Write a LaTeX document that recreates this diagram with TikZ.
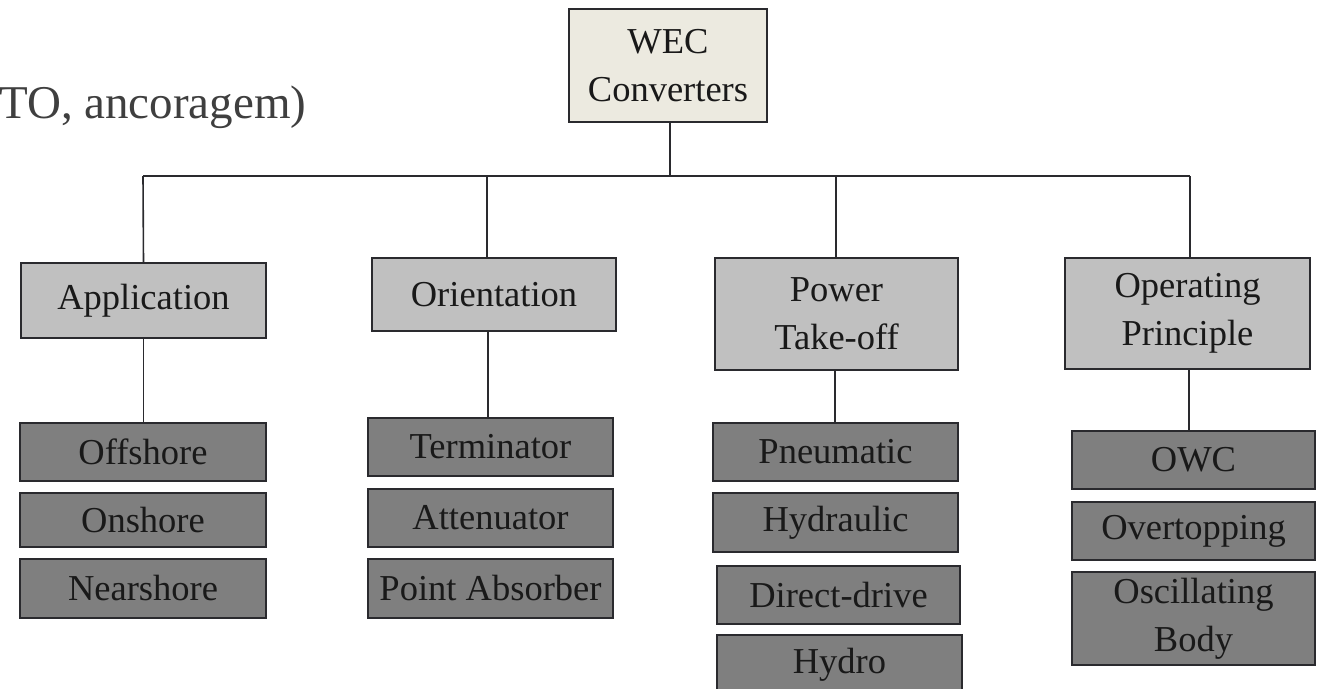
\documentclass[tikz,border=0pt]{standalone}
\usepackage{fontspec}
\setmainfont{Liberation Serif}
\definecolor{topfill}{HTML}{ECEAE0}
\definecolor{midfill}{HTML}{C0C0C0}
\definecolor{leaffill}{HTML}{7F7F7F}
\definecolor{edge}{HTML}{2A2A2E}
\definecolor{captext}{HTML}{3F3F3F}
\tikzset{
  box/.style={draw=edge, line width=1.6pt, inner sep=0pt, align=center,
    text=black!90, font=\fontsize{36.5}{48}\selectfont},
  topbox/.style={box, fill=topfill},
  midbox/.style={box, fill=midfill},
  leafbox/.style={box, fill=leaffill},
  link/.style={draw=edge, line width=1.6pt},
}
\newcommand{\bx}[8]{% style, name, x1, y1, x2, y2, text
  \node[#1, minimum width={#5-#3}, minimum height={#6-#4}] (#2) at ({(#3+#5)/2},{(#4+#6)/2}) {#7};}
\begin{document}
\begin{tikzpicture}[x=1pt,y=-1pt]
\useasboundingbox (0,0) rectangle (1319,688);
\fill[white] (0,0) rectangle (1319,688);

\node[anchor=base west, inner sep=0pt, text=captext, font=\fontsize{47}{56}\selectfont] (cap) at (-1,118) {TO, ancoragem)};

\bx{topbox}{wec}{569}{9}{767}{122}{WEC\\Converters}{}

\bx{midbox}{app}{21}{263}{266}{338}{Application}{}
\bx{midbox}{ori}{372}{258}{616}{331}{Orientation}{}
\bx{midbox}{pto}{715}{258}{958}{370}{Power\\Take-off}{}
\bx{midbox}{opp}{1065}{258}{1310}{369}{Operating\\Principle}{}

\bx{leafbox}{off}{20}{423}{266}{481}{Offshore}{}
\bx{leafbox}{on}{20}{493}{266}{547}{Onshore}{}
\bx{leafbox}{near}{20}{559}{266}{618}{Nearshore}{}

\bx{leafbox}{term}{368}{418}{613}{476}{Terminator}{}
\bx{leafbox}{att}{368}{489}{613}{547}{Attenuator}{}
\bx{leafbox}{point}{368}{559}{613}{618}{Point Absorber}{}

\bx{leafbox}{pneu}{713}{423}{958}{481}{Pneumatic}{}
\bx{leafbox}{hyd}{713}{493}{958}{552}{Hydraulic}{}
\bx{leafbox}{dd}{717}{566}{960}{624}{Direct-drive}{}
\bx{leafbox}{hydro}{717}{635}{962}{694}{Hydro}{}

\bx{leafbox}{owc}{1072}{431}{1315}{489}{OWC}{}
\bx{leafbox}{over}{1072}{502}{1315}{560}{Overtopping}{}
\bx{leafbox}{osc}{1072}{572}{1315}{665}{Oscillating\\Body}{}

% bus
\coordinate (busL) at (143,176);
\coordinate (busR) at (1190,176);
\coordinate (busW) at (670,176);
\draw[link] (busL) -- (busR);
\draw[link] ([xshift=2pt]wec.south) -- (busW);
\draw[link] (busL) -- (app.north);
\draw[link] ([xshift=-7pt]ori.north |- busL) -- ([xshift=-7pt]ori.north);
\draw[link] ([xshift=-0.5pt]pto.north |- busL) -- ([xshift=-0.5pt]pto.north);
\draw[link] (busR) -- ([xshift=2.5pt]opp.north);

% lower stems
\draw[link] (app.south) -- (app.south |- off.north);
\draw[link] ([xshift=-6pt]ori.south) -- ([xshift=-6pt]ori.south |- term.north);
\draw[link] ([xshift=-1.5pt]pto.south) -- ([xshift=-1.5pt]pto.south |- pneu.north);
\draw[link] ([xshift=1.5pt]opp.south) -- ([xshift=1.5pt]opp.south |- owc.north);
\end{tikzpicture}
\end{document}
